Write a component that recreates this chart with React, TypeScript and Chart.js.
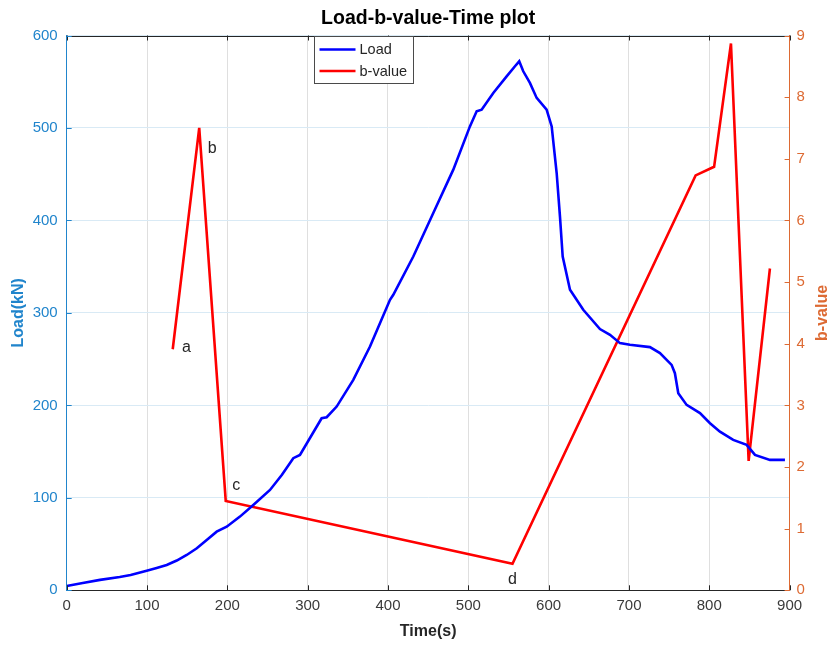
import React, { useEffect, useRef } from "react";
import { Chart, registerables } from "chart.js";

Chart.register(...registerables);

// ---------- data ----------
const loadTime = [
  0, 20, 41.5, 66, 79.6, 99.6, 112, 124.5, 137, 149.4, 162, 174.3, 186.7, 199.2, 215.7, 232.3, 253.1, 268, 282.1, 290.4,
  317.4, 323.7, 336.1, 356.8, 377.6, 402.5, 406.6, 431.5, 456.4, 481.3, 502, 510.4,
  516.6, 531.1, 547.7, 558.1, 563.4, 568.4, 576.7, 585.1, 597.5, 603.8, 610, 614.1,
  617.5, 626.6, 643.1, 663.9, 676.4, 688.8, 701.2, 726.1, 738.6, 753.1, 757.2, 761.4,
  771.8, 788.4, 800.9, 813.3, 829.8, 846.5, 856.9, 875.5, 894.2,
];
const loadValue = [
  4.7, 7.8, 11.3, 14.4, 16.6, 21.2, 24.2, 27.4, 32.2, 38.2, 45.5, 54.4, 63.4, 68.8, 79.7, 92.3, 108.5, 125, 142.9, 146.4,
  186.1, 187.2, 198.7, 227.6, 263.6, 314.2, 319.6, 361, 408, 454.9, 501.7, 518,
  519.8, 537.9, 555.8, 566.7, 572.1, 561.3, 548.7, 532.5, 519.8, 501.7, 451.3, 404.3,
  361, 325, 303.4, 282.5, 276.3, 267.3, 265.5, 263, 256.5, 243.8, 234.8, 213.2,
  200.5, 191.6, 180.7, 171.6, 162.7, 157.3, 146.4, 141, 141,
];
const bTime = [132, 165, 198, 555, 783, 806, 827, 849, 875.5];
const bValue = [3.91, 7.5, 1.45, 0.43, 6.73, 6.87, 8.87, 2.1, 5.22];

const pointLabels = ["a", "b", "c", "d"];
const pointLabelTime = [149, 181, 211, 555];
const pointLabelB = [3.93, 7.17, 1.7, 0.18];

const xMin = 0, xMax = 900, xStep = 100;
const loadMin = 0, loadMax = 600, loadStep = 100;
const bMin = 0, bMax = 9, bStep = 1;

const titleText = "Load-b-value-Time plot";
const xTitle = "Time(s)";
const leftTitle = "Load(kN)";
const rightTitle = "b-value";
const seriesNames = ["Load", "b-value"];

// ---------- styles ----------
const FONT = '"Liberation Sans", Arial, Helvetica, sans-serif';
const LOAD_COLOR = "#0000ff";
const B_COLOR = "#ff0000";
const LEFT_COLOR = "#2185cc";
const RIGHT_COLOR = "#dd6a33";
const DARK = "#262626";
const TICK_TEXT = "#3a3a3a";

const decorPlugin = {
  id: "decor",
  afterDatasetsDraw(chart: any) {
    const { ctx, chartArea: ca, scales } = chart;
    const x = scales.x, yL = scales.yL, yR = scales.yR;
    const line = (x1: number, y1: number, x2: number, y2: number) => {
      ctx.beginPath();
      ctx.moveTo(x1, y1);
      ctx.lineTo(x2, y2);
      ctx.stroke();
    };
    ctx.save();
    ctx.lineWidth = 1;
    ctx.strokeStyle = DARK;
    const topY = Math.round(ca.top) + 0.5;
    line(ca.left, topY, ca.right, topY);
    x.ticks.forEach((t: any) => {
      const px = Math.round(x.getPixelForValue(t.value)) + 0.5;
      line(px, ca.bottom, px, ca.bottom - 5);
      line(px, ca.top, px, ca.top + 5);
    });
    ctx.strokeStyle = LEFT_COLOR;
    yL.ticks.forEach((t: any) => {
      const py = Math.round(yL.getPixelForValue(t.value)) + 0.5;
      line(ca.left, py, ca.left + 5, py);
    });
    ctx.strokeStyle = RIGHT_COLOR;
    yR.ticks.forEach((t: any) => {
      const py = Math.round(yR.getPixelForValue(t.value)) + 0.5;
      line(ca.right, py, ca.right - 5, py);
    });

    ctx.fillStyle = DARK;
    ctx.font = `16px ${FONT}`;
    ctx.textAlign = "center";
    ctx.textBaseline = "middle";
    pointLabels.forEach((s, i) => {
      ctx.fillText(s, x.getPixelForValue(pointLabelTime[i]), yR.getPixelForValue(pointLabelB[i]));
    });

    const cx = (ca.left + ca.right) / 2;
    const cy = (ca.top + ca.bottom) / 2;
    ctx.fillStyle = "#000";
    ctx.font = `bold 19.5px ${FONT}`;
    ctx.fillText(titleText, cx, 19);

    ctx.font = `bold 16px ${FONT}`;
    ctx.fillStyle = DARK;
    ctx.fillText(xTitle, cx, 632);

    ctx.save();
    ctx.fillStyle = LEFT_COLOR;
    ctx.translate(19, cy);
    ctx.rotate(-Math.PI / 2);
    ctx.fillText(leftTitle, 0, 0);
    ctx.restore();

    ctx.save();
    ctx.fillStyle = RIGHT_COLOR;
    ctx.translate(823, cy);
    ctx.rotate(-Math.PI / 2);
    ctx.fillText(rightTitle, 0, 0);
    ctx.restore();

    const lx = 314.5, ly = Math.round(ca.top) + 0.5, lw = 99, lh = 47;
    ctx.fillStyle = "#fff";
    ctx.fillRect(lx, ly, lw, lh);
    ctx.strokeStyle = "#4a4a4a";
    ctx.lineWidth = 1;
    ctx.strokeRect(lx, ly, lw, lh);
    const colors = [LOAD_COLOR, B_COLOR];
    ctx.font = `14.5px ${FONT}`;
    ctx.textAlign = "left";
    seriesNames.forEach((name, i) => {
      const yy = ly + 13 + i * 21.5;
      ctx.strokeStyle = colors[i];
      ctx.lineWidth = 2.5;
      line(lx + 5, yy, lx + 41, yy);
      ctx.fillStyle = DARK;
      ctx.fillText(name, lx + 45, yy + 0.5);
    });
    ctx.restore();
  },
};

export default function App() {
  const ref = useRef<HTMLCanvasElement | null>(null);

  useEffect(() => {
    if (!ref.current) return;
    const loadData = loadTime.map((t, i) => ({ x: t, y: loadValue[i] }));
    const bData = bTime.map((t, i) => ({ x: t, y: bValue[i] }));
    const chart = new Chart(ref.current, {
      type: "line",
      data: {
        datasets: [
          {
            label: seriesNames[0],
            data: loadData,
            yAxisID: "yL",
            borderColor: LOAD_COLOR,
            backgroundColor: LOAD_COLOR,
            borderWidth: 2.6,
            pointRadius: 0,
            tension: 0,
            fill: false,
          },
          {
            label: seriesNames[1],
            data: bData,
            yAxisID: "yR",
            borderColor: B_COLOR,
            backgroundColor: B_COLOR,
            borderWidth: 2.6,
            pointRadius: 0,
            tension: 0,
            fill: false,
          },
        ],
      },
      options: {
        responsive: false,
        animation: false,
        layout: { padding: { top: 35.5, left: 0, right: 0, bottom: 0 } },
        plugins: {
          legend: { display: false },
          title: { display: false },
          tooltip: { enabled: false },
        },
        scales: {
          x: {
            type: "linear",
            min: xMin,
            max: xMax,
            ticks: {
              stepSize: xStep,
              color: TICK_TEXT,
              font: { family: FONT, size: 15 },
              padding: 7,
              maxRotation: 0,
              autoSkip: false,
            },
            grid: { color: "#dfdfdf", drawTicks: false, lineWidth: 1 },
            border: { color: DARK, width: 1 },
            afterFit: (s: any) => {
              s.height = 55.7;
            },
          },
          yL: {
            type: "linear",
            position: "left",
            min: loadMin,
            max: loadMax,
            ticks: {
              stepSize: loadStep,
              color: LEFT_COLOR,
              font: { family: FONT, size: 15 },
              padding: 9,
            },
            grid: { color: "#d9eaf5", drawTicks: false, lineWidth: 1 },
            border: { color: LEFT_COLOR, width: 1 },
            afterFit: (s: any) => {
              s.width = 66.7;
            },
          },
          yR: {
            type: "linear",
            position: "right",
            min: bMin,
            max: bMax,
            ticks: {
              stepSize: bStep,
              color: RIGHT_COLOR,
              font: { family: FONT, size: 15 },
              padding: 7,
            },
            grid: { drawOnChartArea: false, drawTicks: false },
            border: { color: RIGHT_COLOR, width: 1 },
            afterFit: (s: any) => {
              s.width = 42.4;
            },
          },
        },
      } as any,
      plugins: [decorPlugin],
    });
    return () => chart.destroy();
  }, []);

  return (
    <div style={{ position: "absolute", left: 0, top: 0, width: 832, height: 646, background: "#fff" }}>
      <canvas ref={ref} width={832} height={646} style={{ display: "block" }} />
    </div>
  );
}
